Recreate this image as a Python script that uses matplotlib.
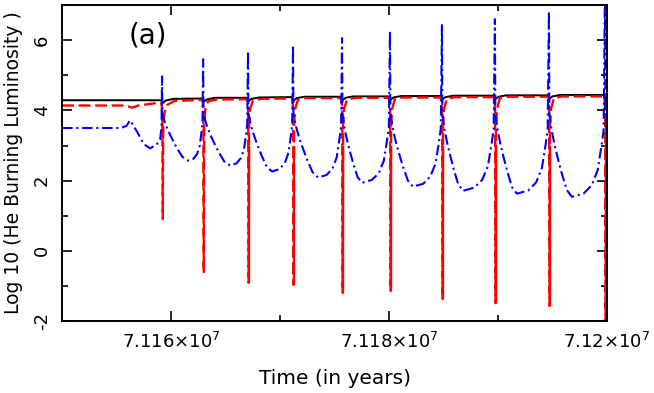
import matplotlib.pyplot as plt
import numpy as np
from matplotlib.ticker import MultipleLocator

T0 = 7.115e7  # time axis origin (years); time arrays below are offsets from it

# black solid model
t_black = [0, 9120, 9200, 9500, 10200,
           12890, 12970, 13270, 13970,
           17010, 17090, 17390, 18090,
           21140, 21220, 21520, 22220,
           25640, 25720, 26020, 26720,
           30040, 30120, 30420, 31120,
           34810, 34890, 35190, 35890,
           39670, 39750, 40050, 40750,
           44630, 44710, 45010, 45710,
           49770, 49850, 50000]
y_black = [4.29, 4.29, 4.20, 4.28, 4.33,
           4.34, 4.24, 4.31, 4.36,
           4.36, 4.26, 4.33, 4.37,
           4.38, 4.28, 4.35, 4.39,
           4.39, 4.29, 4.36, 4.40,
           4.40, 4.30, 4.37, 4.41,
           4.41, 4.31, 4.38, 4.42,
           4.42, 4.32, 4.39, 4.43,
           4.43, 4.33, 4.40, 4.44,
           4.44, 4.34, 4.38]

# red dashed model
t_red = [0, 5800, 6400, 7000, 8400, 9130, 9200, 9240, 9280, 9380, 9600, 10300,
         12890, 12960, 13000, 13040, 13140, 13390, 14140,
         17010, 17080, 17120, 17160, 17260, 17510, 18260,
         21140, 21210, 21250, 21290, 21390, 21640, 22390,
         25640, 25710, 25750, 25790, 25890, 26140, 26890,
         30040, 30110, 30150, 30190, 30290, 30540, 31290,
         34810, 34880, 34920, 34960, 35060, 35310, 36060,
         39670, 39740, 39780, 39820, 39920, 40170, 40920,
         44630, 44700, 44740, 44780, 44880, 45130, 45880,
         49770, 49840, 49880, 49940, 50000]
y_red = [4.14, 4.14, 4.08, 4.14, 4.20, 4.22, 3.80, 0.91, 3.50, 3.90, 4.15, 4.27,
         4.30, 3.90, -0.63, 3.60, 4.05, 4.26, 4.31,
         4.32, 3.90, -0.91, 3.60, 4.05, 4.28, 4.33,
         4.34, 3.90, -0.97, 3.60, 4.05, 4.30, 4.35,
         4.35, 3.90, -1.20, 3.60, 4.05, 4.31, 4.36,
         4.36, 3.90, -1.14, 3.60, 4.05, 4.32, 4.37,
         4.37, 3.90, -1.37, 3.60, 4.05, 4.33, 4.38,
         4.38, 3.90, -1.49, 3.60, 4.05, 4.34, 4.39,
         4.39, 3.90, -1.57, 3.60, 4.05, 4.35, 4.40,
         4.40, 3.90, -2.50, 3.60, 3.90]

# later red spikes look solid
t_red_solid = [17120, 21250, 25750, 30150, 34920, 39780, 44740, 49880]
y_red_solid = [-0.91, -0.97, -1.20, -1.14, -1.37, -1.49, -1.57, -2.50]

# blue dash-dot model
t_blue = [0, 5400, 5900, 6240, 6900, 7500, 8070, 8680, 8990, 9120, 9170,
          9210, 9457, 9768, 10126, 10508, 11034, 11560, 12043, 12388, 12636, 12788, 12885, 12940,
          12980, 13236, 13558, 13928, 14323, 14867, 15410, 15988, 16400, 16697, 16879, 16994, 17060,
          17100, 17325, 17613, 17944, 18298, 18784, 19270, 19942, 20422, 20768, 20979, 21113, 21190,
          21230, 21466, 21765, 22110, 22478, 22984, 23490, 24260, 24810, 25206, 25448, 25602, 25690,
          25730, 25910, 26148, 26422, 26715, 27117, 27520, 28420, 29062, 29525, 29807, 29987, 30090,
          30130, 30343, 30618, 30934, 31272, 31736, 32200, 33131, 33796, 34275, 34567, 34754, 34860,
          34900, 35092, 35343, 35632, 35941, 36365, 36790, 37816, 38548, 39075, 39398, 39603, 39720,
          39760, 39962, 40225, 40528, 40851, 41296, 41740, 42769, 43504, 44033, 44357, 44562, 44680,
          44720, 44933, 45208, 45524, 45862, 46326, 46790, 47851, 48608, 49153, 49487, 49699, 49820,
          49860, 50000]
y_blue = [3.50, 3.50, 3.56, 3.72, 3.38, 3.04, 2.92, 3.03, 3.17, 3.50, 4.97,
          3.90, 3.63, 3.40, 3.17, 2.94, 2.68, 2.57, 2.62, 2.76, 3.00, 3.37, 3.63, 5.46,
          3.90, 3.61, 3.34, 3.09, 2.84, 2.55, 2.43, 2.49, 2.64, 2.90, 3.31, 3.61, 5.69,
          3.90, 3.57, 3.28, 3.00, 2.72, 2.39, 2.26, 2.33, 2.49, 2.79, 3.24, 3.57, 5.86,
          3.90, 3.54, 3.21, 2.91, 2.60, 2.24, 2.09, 2.16, 2.34, 2.67, 3.18, 3.54, 6.06,
          3.90, 3.51, 3.16, 2.82, 2.49, 2.10, 1.94, 2.02, 2.21, 2.57, 3.12, 3.51, 6.26,
          3.90, 3.49, 3.11, 2.76, 2.41, 2.00, 1.83, 1.91, 2.12, 2.49, 3.07, 3.49, 6.43,
          3.90, 3.46, 3.07, 2.70, 2.32, 1.89, 1.71, 1.80, 2.02, 2.41, 3.02, 3.46, 6.60,
          3.90, 3.45, 3.04, 2.65, 2.27, 1.81, 1.63, 1.72, 1.95, 2.36, 2.99, 3.45, 6.83,
          3.90, 3.43, 3.00, 2.60, 2.20, 1.73, 1.54, 1.63, 1.87, 2.30, 2.96, 3.43, 7.50,
          4.00, 3.30]

xtick_vals = [7.116e7, 7.118e7, 7.12e7]
xtick_labels = [r'$\mathregular{7.116{\times}10^{7}}$',
                r'$\mathregular{7.118{\times}10^{7}}$',
                r'$\mathregular{7.12{\times}10^{7}}$']
ytick_vals = [-2, 0, 2, 4, 6]

fig = plt.figure(figsize=(6.54, 3.93), dpi=100)
ax = fig.add_axes([0.095, 0.183, 0.833, 0.804])

ax.plot(T0 + np.array(t_black), y_black, color='black', lw=1.4)
ax.plot(T0 + np.array(t_red), y_red, color='red', lw=1.7, dashes=(5, 2))
ax.vlines(T0 + np.array(t_red_solid), 3.0, y_red_solid, color='red', lw=1.7)
ax.plot(T0 + np.array(t_blue), y_blue, color='blue', lw=1.5, dashes=(5, 1.8, 1, 1.8))

ax.set_xlim(7.115e7, 7.12e7)
ax.set_ylim(-2, 7)
ax.set_xticks(xtick_vals)
ax.set_xticklabels(xtick_labels, fontsize=13)
ax.xaxis.set_minor_locator(MultipleLocator(1e4))
ax.set_yticks(ytick_vals)
ax.set_yticklabels([str(v) for v in ytick_vals], fontsize=13, rotation=90, va='center')
ax.yaxis.set_minor_locator(MultipleLocator(1))
ax.tick_params(which='both', direction='in', top=True, right=True, width=1.2)
ax.tick_params(which='major', length=7.5, pad=8)
ax.tick_params(which='minor', length=4.5)
for s in ax.spines.values():
    s.set_linewidth(1.4)

ax.set_xlabel('Time (in years)', fontsize=14.5, labelpad=12)
ax.set_ylabel('Log 10 (He Burning Luminosity )', fontsize=13.5)
ax.yaxis.set_label_coords(-0.072, 0.5)
ax.text(0.158, 0.905, '(a)', transform=ax.transAxes, fontsize=20, ha='center', va='center')

fig.savefig('out.png', dpi=100)
